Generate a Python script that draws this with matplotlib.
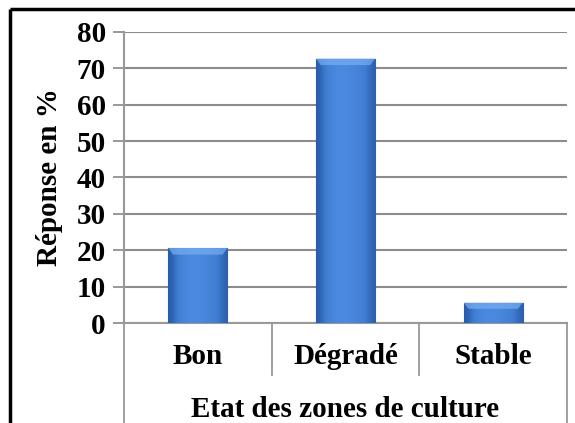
import matplotlib
matplotlib.use('Agg')
import matplotlib.pyplot as plt
import numpy as np
from matplotlib.lines import Line2D
from matplotlib.patches import Polygon

plt.rcParams['font.family'] = ['Liberation Serif', 'DejaVu Serif']
plt.rcParams['font.weight'] = 'bold'

# données
categories = ['Bon', 'Dégradé', 'Stable']
reponses = [20.6, 72.7, 5.6]
yticks = [0, 10, 20, 30, 40, 50, 60, 70, 80]

fig = plt.figure(figsize=(5.75, 4.23), dpi=100)
ax = fig.add_axes([124/575, 1 - 323/423, (567 - 124)/575, (323 - 32)/423])

x = np.arange(len(categories))
bars = ax.bar(x, reponses, width=0.4, color='#3f7bd0', edgecolor='#2a5aa0',
              linewidth=0.8, zorder=3)

# dégradé horizontal façon Excel
grad = np.array([0.0, 0.45, 0.7, 0.8, 0.78, 0.7, 0.6, 0.4, 0.05])
cmap = matplotlib.colors.LinearSegmentedColormap.from_list(
    'bleu', ['#2a5ca8', '#3f7cd2', '#4b8ae0'])
for bar in bars:
    bx, bw, bh = bar.get_x(), bar.get_width(), bar.get_height()
    im = ax.imshow(grad[np.newaxis, :], cmap=cmap, aspect='auto',
                   extent=[bx, bx + bw, 0, bh], zorder=4, interpolation='bicubic')
    im.set_clip_path(bar)
    # biseau clair en haut
    top = min(1.8, bh * 0.3)
    inset = bw * 0.08
    ax.add_patch(Polygon([(bx, bh), (bx + bw, bh), (bx + bw - inset, bh - top),
                          (bx + inset, bh - top)], closed=True,
                         facecolor='#78aef2', edgecolor='none', alpha=0.7, zorder=5))

ax.set_xlim(-0.5, 2.5)
ax.set_ylim(0, 80)
ax.set_yticks(yticks)
ax.set_yticklabels([str(v) for v in yticks], fontsize=21, fontweight='bold')
ax.set_xticks([])
ax.tick_params(axis='y', length=8, width=1.2, color='#888888', pad=5)
ax.grid(axis='y', color='#8c8c8c', linewidth=1.5, zorder=0)
for s in ['top', 'right']:
    ax.spines[s].set_visible(False)
ax.spines['left'].set_color('#999999')
ax.spines['left'].set_linewidth(1.5)
ax.spines['bottom'].set_color('#999999')
ax.spines['bottom'].set_linewidth(1.5)

ax.set_ylabel('Réponse en %', fontsize=21, fontweight='bold', labelpad=10)

# tableau des catégories sous l'axe
bot = -(423 - 323) / 291
for xv, y0 in [(-0.5, bot), (0.5, -52/291), (1.5, -52/291), (2.5, bot)]:
    ax.add_line(Line2D([xv, xv], [0, y0], transform=ax.get_xaxis_transform(),
                       color='#999999', linewidth=1.3, clip_on=False))
for i, c in enumerate(categories):
    ax.text(i, -33/291, c, transform=ax.get_xaxis_transform(), ha='center',
            va='center', fontsize=21, fontweight='bold')
ax.text(1, -86/291, 'Etat des zones de culture', transform=ax.get_xaxis_transform(),
        ha='center', va='center', fontsize=21, fontweight='bold')

# cadre extérieur
fig.add_artist(Line2D([10/575, 10/575], [0, 1 - 9/423], color='black', linewidth=2.5,
                      solid_capstyle='butt'))
fig.add_artist(Line2D([10/575, 1], [1 - 9/423, 1 - 9/423], color='black', linewidth=2.5,
                      solid_capstyle='butt'))

plt.savefig('out.png', dpi=100)
plt.close()
